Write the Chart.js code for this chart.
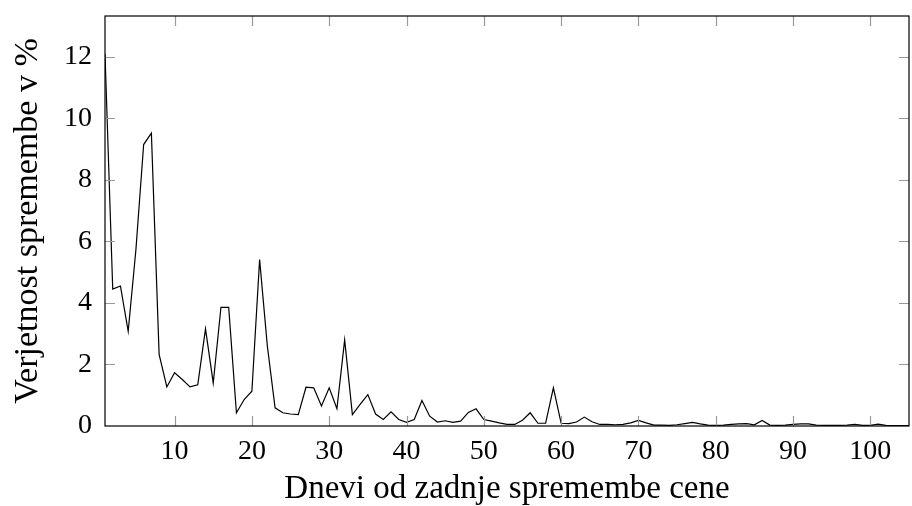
<!DOCTYPE html>
<html>
<head>
<meta charset="utf-8">
<script src="https://cdn.jsdelivr.net/npm/chart.js@4"></script>
<style>
  html, body { margin: 0; padding: 0; background: #fff; }
  #wrap { width: 912px; height: 506px; }
</style>
</head>
<body>
<div id="wrap"><canvas id="c" width="912" height="506"></canvas></div>
<script>
const days = [1,2,3,4,5,6,7,8,9,10,11,12,13,14,15,16,17,18,19,20,
  21,22,23,24,25,26,27,28,29,30,31,32,33,34,35,36,37,38,39,40,
  41,42,43,44,45,46,47,48,49,50,51,52,53,54,55,56,57,58,59,60,
  61,62,63,64,65,66,67,68,69,70,71,72,73,74,75,76,77,78,79,80,
  81,82,83,84,85,86,87,88,89,90,91,92,93,94,95,96,97,98,99,100,
  101,102,103,104,105];
const probability = [12.1,4.45,4.55,3.08,5.74,9.15,9.52,2.33,1.27,1.73,
  1.51,1.27,1.34,3.16,1.40,3.86,3.86,0.43,0.86,1.13,
  5.41,2.6,0.59,0.43,0.39,0.37,1.26,1.24,0.65,1.24,
  0.56,2.8,0.37,0.70,1.02,0.39,0.21,0.46,0.21,0.12,
  0.21,0.83,0.32,0.13,0.17,0.12,0.16,0.44,0.56,0.21,
  0.16,0.10,0.05,0.05,0.19,0.43,0.09,0.09,1.24,0.09,
  0.08,0.13,0.29,0.14,0.05,0.05,0.04,0.05,0.10,0.18,
  0.10,0.03,0.03,0.02,0.04,0.08,0.12,0.07,0.03,0.02,
  0.03,0.05,0.07,0.08,0.04,0.18,0.03,0.02,0.03,0.05,
  0.07,0.07,0.03,0.02,0.02,0.02,0.03,0.05,0.02,0.02,
  0.06,0.02,0.01,0.01,0.01];
const xTicks = [10,20,30,40,50,60,70,80,90,100];
const yTicks = [0,2,4,6,8,10,12];
const xTitle = 'Dnevi od zadnje spremembe cene';
const yTitle = 'Verjetnost spremembe v %';

const FONT = "'Liberation Serif', 'DejaVu Serif', serif";

const frame = {
  id: 'frame',
  afterDatasetsDraw(chart) {
    const ctx = chart.ctx, a = chart.chartArea;
    const xs = chart.scales.x, ys = chart.scales.y;
    const L = 10;
    ctx.save();
    ctx.strokeStyle = '#999';
    ctx.lineWidth = 1.2;
    ctx.beginPath();
    xTicks.forEach(v => {
      const px = Math.round(xs.getPixelForValue(v)) + 0.5;
      ctx.moveTo(px, a.bottom); ctx.lineTo(px, a.bottom - L);
      ctx.moveTo(px, a.top); ctx.lineTo(px, a.top + L);
    });
    yTicks.forEach(v => {
      if (v === 0) return;
      const py = Math.round(ys.getPixelForValue(v)) + 0.5;
      ctx.moveTo(a.left, py); ctx.lineTo(a.left + L, py);
      ctx.moveTo(a.right, py); ctx.lineTo(a.right - L, py);
    });
    ctx.stroke();
    ctx.strokeStyle = '#000';
    ctx.lineWidth = 1.2;
    ctx.strokeRect(a.left, a.top, a.right - a.left, a.bottom - a.top);
    ctx.restore();
  }
};

new Chart(document.getElementById('c'), {
  type: 'line',
  data: {
    datasets: [{
      data: days.map((d, i) => ({ x: d, y: probability[i] })),
      borderColor: '#000',
      borderWidth: 1.2,
      pointRadius: 0,
      tension: 0,
      fill: false
    }]
  },
  options: {
    responsive: false,
    animation: false,
    layout: { padding: { left: 0, right: 3, top: 16, bottom: 0 } },
    plugins: { legend: { display: false }, tooltip: { enabled: false } },
    scales: {
      x: {
        type: 'linear',
        min: 1, max: 105,
        afterBuildTicks: s => { s.ticks = xTicks.map(v => ({ value: v })); },
        afterFit: s => { s.height = 80; s.paddingLeft = 0; s.paddingRight = 0; },
        grid: { display: false, drawTicks: false },
        border: { display: false },
        ticks: { font: { family: FONT, size: 28 }, color: '#000', padding: 9 },
        title: { display: true, text: xTitle, font: { family: FONT, size: 33, lineHeight: 1 }, color: '#000', padding: { top: 0, bottom: 0 } }
      },
      y: {
        type: 'linear',
        min: 0, max: 13.33,
        afterBuildTicks: s => { s.ticks = yTicks.map(v => ({ value: v })); },
        afterFit: s => { s.width = 105; s.paddingTop = 0; s.paddingBottom = 0; },
        grid: { display: false, drawTicks: false },
        border: { display: false },
        ticks: { font: { family: FONT, size: 28 }, color: '#000', padding: 13 },
        title: { display: true, text: yTitle, font: { family: FONT, size: 34, lineHeight: 1 }, color: '#000', padding: { top: 11, bottom: 0 } }
      }
    }
  },
  plugins: [frame]
});
</script>
</body>
</html>
